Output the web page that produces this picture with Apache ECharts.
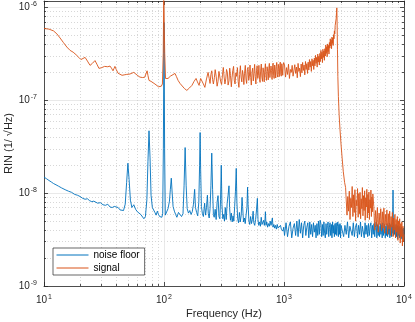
<!DOCTYPE html>
<html>
<head>
<meta charset="utf-8">
<script src="https://cdn.jsdelivr.net/npm/echarts@6/dist/echarts.min.js"></script>
<style>
html, body { margin: 0; padding: 0; background: #fff; }
#chart { width: 415px; height: 322px; }
</style>
</head>
<body>
<div id="chart"></div>
<script>
// tick values
var xMajor = [10, 100, 1000, 10000];
var yMajor = [1e-9, 1e-8, 1e-7, 1e-6];
var minorSteps = [2, 3, 4, 5, 6, 7, 8, 9];
var seriesNames = ['noise floor', 'signal'];
var colors = ['#0072BD', '#D95319'];

// spectra: [frequency in Hz, RIN in units of 1e-9 /sqrt(Hz)]
var UNIT = 1e-9;

var noiseLow = [[10,14.9],[10.5,14.3],[11,13.7],[11.5,13.2],[12,12.7],[12.6,12.3],[13.2,11.9],[14,11.4],[15,10.9],[16,10.5],
  [17,10.2],[18,9.7],[19,9.5],[20,9.2],[21,8.8],[22,8.6],[23,8.7],[24,8.3],[25,8.1],[26,8.2],[27,8.0],[28,7.8],[29.5,7.9],
  [31,7.5],[32.5,7.4],[34,7.6],[35.5,7.1],[37,7.0],[38.5,7.2],[40,6.9],[41.5,7.0],[43,6.6],[44.5,6.4],[46,6.5],[47.5,7.6],
  [48.8,13],[50,21],[51.2,14],[52.5,8.4],[54,7.0],[56,7.5],[58,6.7],[60,6.3],[62,6.1],[64,5.9],[66,5.7],[68,5.3],[70,5.6],
  [72,8.5],[73.5,22],[75,47],[76.5,24],[78,9.5],[80,7.0],[82,7.3],[84,6.2],[86,5.8],[88,6.4],[90,5.9],[92,5.6],[94,5.8],
  [96,5.5],[97.5,6.0],[98.8,30],[100,690],[101.2,30],[102.5,5.8]];

var noiseMid = [[105,6.0],[108,6.8],[111,8.2],[113,11],[115,14.5],[117,10],[119,7.2],[122,6.4],[125,5.9],[128,5.5],
  [132,6.2],[136,5.9],[140,5.6],[144,6.0],[147,12],[150,31],[153,12],[156,6.8],[160,6.1],[164,6.5],[168,5.9],[172,6.3],
  [176,7.6],[180,11],[183,7.0],[187,6.2],[191,5.7],[195,8.0],[198,20],[200,45],[202,18],[205,7.2],[209,6.0],[213,5.6],
  [218,7.8],[222,5.8],[226,7.0],[230,9.5],[234,6.0],[238,5.4],[242,6.8],[246,12],[250,27],[254,11],[258,5.9],[262,5.5],
  [267,6.7],[272,5.2],[277,8.0],[282,9.4],[287,5.6],[292,5.3],[296,8.5],[300,20],[304,7.5],[309,5.3],[314,5.9],[319,5.0],
  [324,7.0],[330,5.2],[336,7.8],[342,9.5],[348,12],[352,7.0],[358,5.1],[364,6.1],[370,4.9],[376,5.7],[382,5.0],[388,7.2],
  [394,10.5],[400,18.5],[405,8.0],[411,5.3],[418,4.8],[425,6.2],[432,4.9],[440,5.8],[447,9.0],[452,7.2],[460,4.9],[468,5.4],
  [475,4.7],[483,5.8],[491,7.0],[497,11.6],[502,7.5],[510,5.0],[518,4.6],[527,5.6],[536,4.7],[545,5.2],[553,6.4],[560,4.8],
  [570,4.5],[580,5.2],[590,6.6],[600,8.8],[607,5.2],[616,4.5],[626,4.9],[636,4.4],[646,5.5],[656,4.6],[666,4.4],[676,5.1],
  [686,4.5],[695,5.3],[700,6.3],[708,4.5],[718,4.9],[730,4.3],[742,4.7],[755,4.4],[767,5.0],[780,4.5],[792,4.7],[800,5.4],
  [810,4.3],[823,4.6],[836,4.2],[850,4.5],[864,4.1],[878,4.6],[892,4.2],[906,4.4],[920,4.0],[935,4.5],[950,4.1],[965,4.3],
  [980,3.9],[995,4.3]];

var noiseHigh = [[1010,3.5],[1040,4.8],[1070,3.4],[1100,4.4],[1130,4.9],[1160,3.3],[1190,4.2],[1220,4.7],[1250,3.5],[1280,5.0],
  [1310,3.4],[1340,5.2],[1370,3.7],[1400,4.8],[1430,3.3],[1460,4.5],[1490,5.0],[1520,3.5],[1550,4.3],[1580,4.8],
  [1610,3.3],[1640,4.9],[1670,3.6],[1700,4.6],[1730,3.4],[1760,4.8],[1790,3.8],[1820,4.5],[1850,3.3],[1880,4.7],
  [1910,3.5],[1940,5.0],[1970,3.6],[2000,5.1],[2030,4.7],[2060,3.4],[2090,4.6],[2120,3.5],[2150,4.9],[2180,3.7],
  [2210,3.3],[2240,4.7],[2270,3.6],[2300,4.5],[2330,4.9],[2360,3.4],[2390,4.3],[2420,4.8],[2450,3.5],[2480,4.6],
  [2510,3.3],[2540,4.9],[2570,3.7],[2600,4.5],[2630,3.4],[2660,4.7],[2690,3.6],[2720,4.8],[2750,3.5],[2780,4.4],
  [2810,4.9],[2840,3.4],[2870,4.6],[2900,3.6],[2930,4.7],[2960,3.3],[2990,4.5],
  [3060,4.7],[3140,3.4],[3220,4.5],[3300,3.6],[3380,4.9],[3460,3.3],[3540,4.4],[3620,4.6],[3700,3.5],[3780,4.8],
  [3860,3.4],[3940,4.3],[4020,4.7],[4100,3.3],[4180,4.5],[4260,3.6],[4340,4.9],[4420,3.4],[4500,4.4],[4580,4.6],
  [4660,3.3],[4740,4.8],[4820,3.6],[4900,4.5],[4980,3.4],[5060,4.7],[5140,3.5],[5220,4.4],[5300,4.8],[5380,3.3],
  [5460,4.5],[5540,3.6],[5620,4.7],[5700,3.4],[5780,4.3],[5860,4.9],[5940,3.3],[6020,4.6],[6100,3.5],[6180,4.4],
  [6260,3.4],[6340,4.7],[6420,3.6],[6500,4.5],[6580,3.3],[6660,4.8],[6740,3.5],[6820,4.3],[6900,4.6],[6980,3.3],
  [7060,4.4],[7140,3.5],[7220,4.7],[7300,3.4],[7380,4.5],[7460,3.6],[7540,4.8],[7620,3.3],[7700,4.3],[7780,4.6],
  [7860,3.4],[7940,4.4],[8020,3.7],[8100,10.8],[8180,3.5],[8260,4.5],[8340,3.6],[8420,4.3],[8500,3.3],[8580,4.6],
  [8660,3.4],[8740,4.4],[8820,3.2],[8900,4.5],[8980,3.5],[9060,4.3],[9140,3.3],[9220,4.4],[9300,3.4],[9380,4.2],
  [9460,3.2],[9540,4.3],[9620,3.3],[9700,4.1],[9780,3.2],[9860,4.2],[9940,3.4]];

var signalLow = [[10,594],[11,585],[12,560],[12.8,520],[13.6,470],[14.5,420],[15.5,375],[16.5,345],[17.5,330],[18.5,310],
  [19.5,290],[20.3,275],[21,285],[22,290],[23,265],[24.2,238],[25.3,250],[26.6,268],[27.6,245],[28.7,221],[30,224],
  [32,232],[34,230],[35.5,234],[36.5,222],[37.6,208],[38.3,220],[39,232],[40,215],[41.4,196],[43,190],[44.7,186],
  [46.5,188],[48.5,190],[50,189],[52,192],[54,196],[56,200],[58,192],[60.6,184],[63,178],[66,176],[69,177],[71,182],
  [72.3,208],[73.5,185],[75,164],[78,160],[81,155],[84,150],[87,145],[90,140],[92.6,137],[95,142],[97,150],
  [98.6,320],[99.5,1400],[100.5,1400],[101.4,320],[103,172]];

var signalMid = [[108,172],[113,182],[117,186],[123.5,195],[127,180],[131,164],[136,152],[141,145],[148,134],[155,128],
  [163,136],[171,145],[178,160],[185,172],[190,158],[196,145],[202,172],[207,172],[213,150],[219,138],[226,170],[233,200],
  [238,172],[242,152],[246,190],[250,208],[254,168],[258,150],[263,176],[267,214],[272,182],[277,142],[282,160],[287,205],
  [292,196],[297,158],[302,148],[307,188],[312,226],[317,178],[322,150],[327,170],[332,215],[337,200],[342,146],[348,162],
  [353,222],[358,186],[364,140],[369,175],[374,208],[380,232],[385,165],[391,150],[397,198],[403,182],[409,225],[415,160],
  [421,138],[427,190],[433,236],[439,178],[445,158],[451,210],[457,188],[463,148],[469,196],[476,238],[482,170],[488,152],
  [495,214],[501,226],[508,164],[515,182],[521,240],[528,176],[534,146],[541,200],[548,222],[555,162],[562,194],[569,244],
  [576,180],[583,150],[590,208],[597,236],[604,172],[611,186],[618,238],[625,168],[632,156],[640,218],[647,246],[654,178],
  [662,160],[669,224],[677,200],[684,158],[692,212],[700,248],[707,182],[715,164],[723,230],[731,205],[739,166],[747,222],
  [755,250],[763,176],[771,170],[779,234],[787,210],[795,168],[803,228],[811,252],[820,184],[828,172],[836,240],[845,214],
  [853,174],[862,232],[870,256],[879,190],[887,178],[896,244],[905,218],[913,180],[922,236],[931,258],[940,192],[949,182],
  [958,248],[967,222],[976,186],[985,240],[994,255]];

var signalHigh = [[1010,240],[1030,178],[1050,225],[1070,190],[1090,245],[1110,172],[1130,215],[1150,200],[1170,238],[1190,182],
  [1210,186],[1230,242],[1250,195],[1270,228],[1290,175],[1310,250],[1330,205],[1350,222],[1370,180],[1390,246],
  [1410,198],[1430,256],[1450,210],[1470,240],[1490,188],[1510,262],[1530,215],[1550,248],[1570,195],[1590,258],
  [1610,212],[1630,275],[1650,228],[1670,262],[1690,205],[1710,280],[1730,236],[1750,270],[1770,215],[1790,285],
  [1810,235],[1830,305],[1850,250],[1870,290],[1890,228],[1910,315],[1930,258],[1950,298],[1970,240],[1990,320],
  [2010,262],[2030,345],[2050,280],[2070,330],[2090,255],[2110,355],[2130,290],[2150,340],[2170,270],[2190,360],
  [2210,300],[2230,395],[2250,320],[2270,378],[2290,295],[2310,405],[2330,335],[2350,390],[2370,315],[2390,420],
  [2410,365],[2430,460],[2450,385],[2470,445],[2490,360],[2510,480],[2530,410],[2550,470],[2570,390],[2590,510],
  [2610,460],[2630,560],[2650,520],[2670,640],[2690,620],[2720,760],[2740,880],[2755,990],[2770,700],[2790,350],
  [2810,180],[2840,110],[2880,70],[2930,48],[2990,33],[3050,24],[3120,17],[3200,13],[3260,11.5]];

var signalTail = [[3300,11.0],[3350,5.8],[3400,9.2],[3450,6.4],[3500,10.5],[3550,5.2],[3600,8.8],[3650,7.0],[3700,11.8],[3750,5.6],
  [3800,9.6],[3850,6.2],[3900,10.9],[3950,5.0],[4000,8.4],[4050,7.3],[4100,11.2],[4150,5.5],[4200,9.9],[4250,6.0],
  [4300,10.2],[4350,5.3],[4400,8.7],[4450,6.8],[4500,11.5],[4550,5.7],[4600,9.4],[4650,6.5],[4700,10.6],[4750,5.1],
  [4800,8.9],[4850,7.1],[4900,11.0],[4950,5.4],[5000,9.7],[5050,6.1],[5100,10.3],[5150,5.2],[5200,8.5],[5250,6.9],
  [5300,10.8],[5350,5.6],[5400,9.1],[5450,6.3],[5500,9.8],
  [5600,7.2],[5700,4.0],[5800,6.5],[5900,4.4],[6000,7.0],[6100,3.8],[6200,6.1],[6300,4.6],[6400,6.8],[6500,3.9],
  [6600,6.3],[6700,4.2],[6800,6.9],[6900,3.7],[7000,5.9],[7100,4.5],[7200,6.6],[7300,3.6],[7400,6.0],[7500,4.1],
  [7600,6.4],[7700,3.5],[7800,5.6],[7900,4.3],[8000,6.2],[8100,3.4],[8200,5.4],[8300,4.0],[8400,5.9],[8500,3.3],
  [8600,5.2],[8700,3.8],[8800,5.6],[8900,3.1],[9000,5.0],[9100,3.6],[9200,5.3],[9300,2.9],[9400,4.7],[9500,3.4],
  [9600,4.9],[9700,2.7],[9800,4.4],[9900,3.0],[10000,3.6]];

var noiseFloor = noiseLow.concat(noiseMid, noiseHigh);
var signal = signalLow.concat(signalMid, signalHigh, signalTail);

var FONT = '"Liberation Sans", Arial, sans-serif';
var TXT = '#262626';
var yTop = -5.93;

function toLog(list) {
    return list.map(function (p) { return [Math.log10(p[0]), Math.log10(p[1] * UNIT)]; });
}

var xMinor = [], yMinor = [];
xMajor.forEach(function (d) {
    minorSteps.forEach(function (m) { if (d * m < xMajor[xMajor.length - 1]) xMinor.push(Math.log10(d * m)); });
});
yMajor.forEach(function (d) {
    minorSteps.forEach(function (m) { if (Math.log10(d * m) < yTop) yMinor.push(Math.log10(d * m)); });
});
var xMin = Math.log10(xMajor[0]), xMax = Math.log10(xMajor[xMajor.length - 1]);
var yMin = Math.log10(yMajor[0]);

function powLabel(v) {
    if (Math.abs(v - Math.round(v)) > 1e-6) return '';
    return '{b|10}{s|' + Math.round(v) + '}';
}
var labelRich = {
    b: { fontSize: 10, color: TXT, fontFamily: FONT },
    s: { fontSize: 7, color: TXT, fontFamily: FONT, padding: [0, 0, 6, 1] }
};
var lineSt = { color: TXT, width: 0.8 };

function mainAxis(pos, labelled, name) {
    var horiz = pos === 'bottom' || pos === 'top';
    return {
        type: 'value', position: pos,
        min: horiz ? xMin : yMin, max: horiz ? xMax : yTop, interval: 1,
        axisLine: { show: true, onZero: false, lineStyle: lineSt },
        axisTick: { show: true, inside: true, length: 4, lineStyle: lineSt },
        axisLabel: { show: labelled, formatter: powLabel, rich: labelRich, margin: horiz ? 8 : 7 },
        splitLine: { show: labelled, lineStyle: { color: '#e3e3e3', width: 0.8 } },
        name: labelled ? name : '',
        nameLocation: 'middle',
        nameGap: horiz ? 22 : 30,
        nameMoveOverlap: false,
        nameTextStyle: { fontSize: 11, color: TXT, fontFamily: FONT }
    };
}
function minorAxis(pos, grid) {
    var horiz = pos === 'bottom' || pos === 'top';
    return {
        type: 'value', position: pos,
        min: horiz ? xMin : yMin, max: horiz ? xMax : yTop,
        axisLine: { show: false, onZero: false },
        axisTick: { show: true, inside: true, length: 2, lineStyle: lineSt, customValues: horiz ? xMinor : yMinor },
        axisLabel: { show: false },
        splitLine: { show: grid, lineStyle: { color: '#cdcdcd', width: 0.8, type: [1, 2] } }
    };
}

var chart = echarts.init(document.getElementById('chart'), null, { renderer: 'canvas' });
chart.setOption({
    animation: false,
    backgroundColor: '#fff',
    textStyle: { fontFamily: FONT },
    grid: { left: 44, right: 11, top: 1, bottom: 36, containLabel: false, outerBoundsMode: 'none' },
    xAxis: [mainAxis('bottom', true, 'Frequency (Hz)'), minorAxis('bottom', true), mainAxis('top', false), minorAxis('top', false)],
    yAxis: [mainAxis('left', true, 'RIN (1/ \u221AHz)'), minorAxis('left', true), mainAxis('right', false), minorAxis('right', false)],
    legend: {
        data: seriesNames, orient: 'vertical', left: 53, top: 248,
        itemWidth: 32, itemHeight: 10, itemGap: 3, padding: [2, 5, 2, 3],
        borderColor: TXT, borderWidth: 0.7, backgroundColor: '#fff',
        itemStyle: { opacity: 0 },
        lineStyle: { width: 1 },
        textStyle: { fontSize: 10, color: '#000', fontFamily: FONT }
    },
    series: [
        { name: seriesNames[0], type: 'line', data: toLog(noiseFloor), xAxisIndex: 0, yAxisIndex: 0,
          showSymbol: false, symbol: 'none', clip: true, color: colors[0], lineStyle: { width: 0.9, color: colors[0] } },
        { name: seriesNames[1], type: 'line', data: toLog(signal), xAxisIndex: 0, yAxisIndex: 0,
          showSymbol: false, symbol: 'none', clip: true, color: colors[1], lineStyle: { width: 0.9, color: colors[1] } }
    ]
});
</script>
</body>
</html>
